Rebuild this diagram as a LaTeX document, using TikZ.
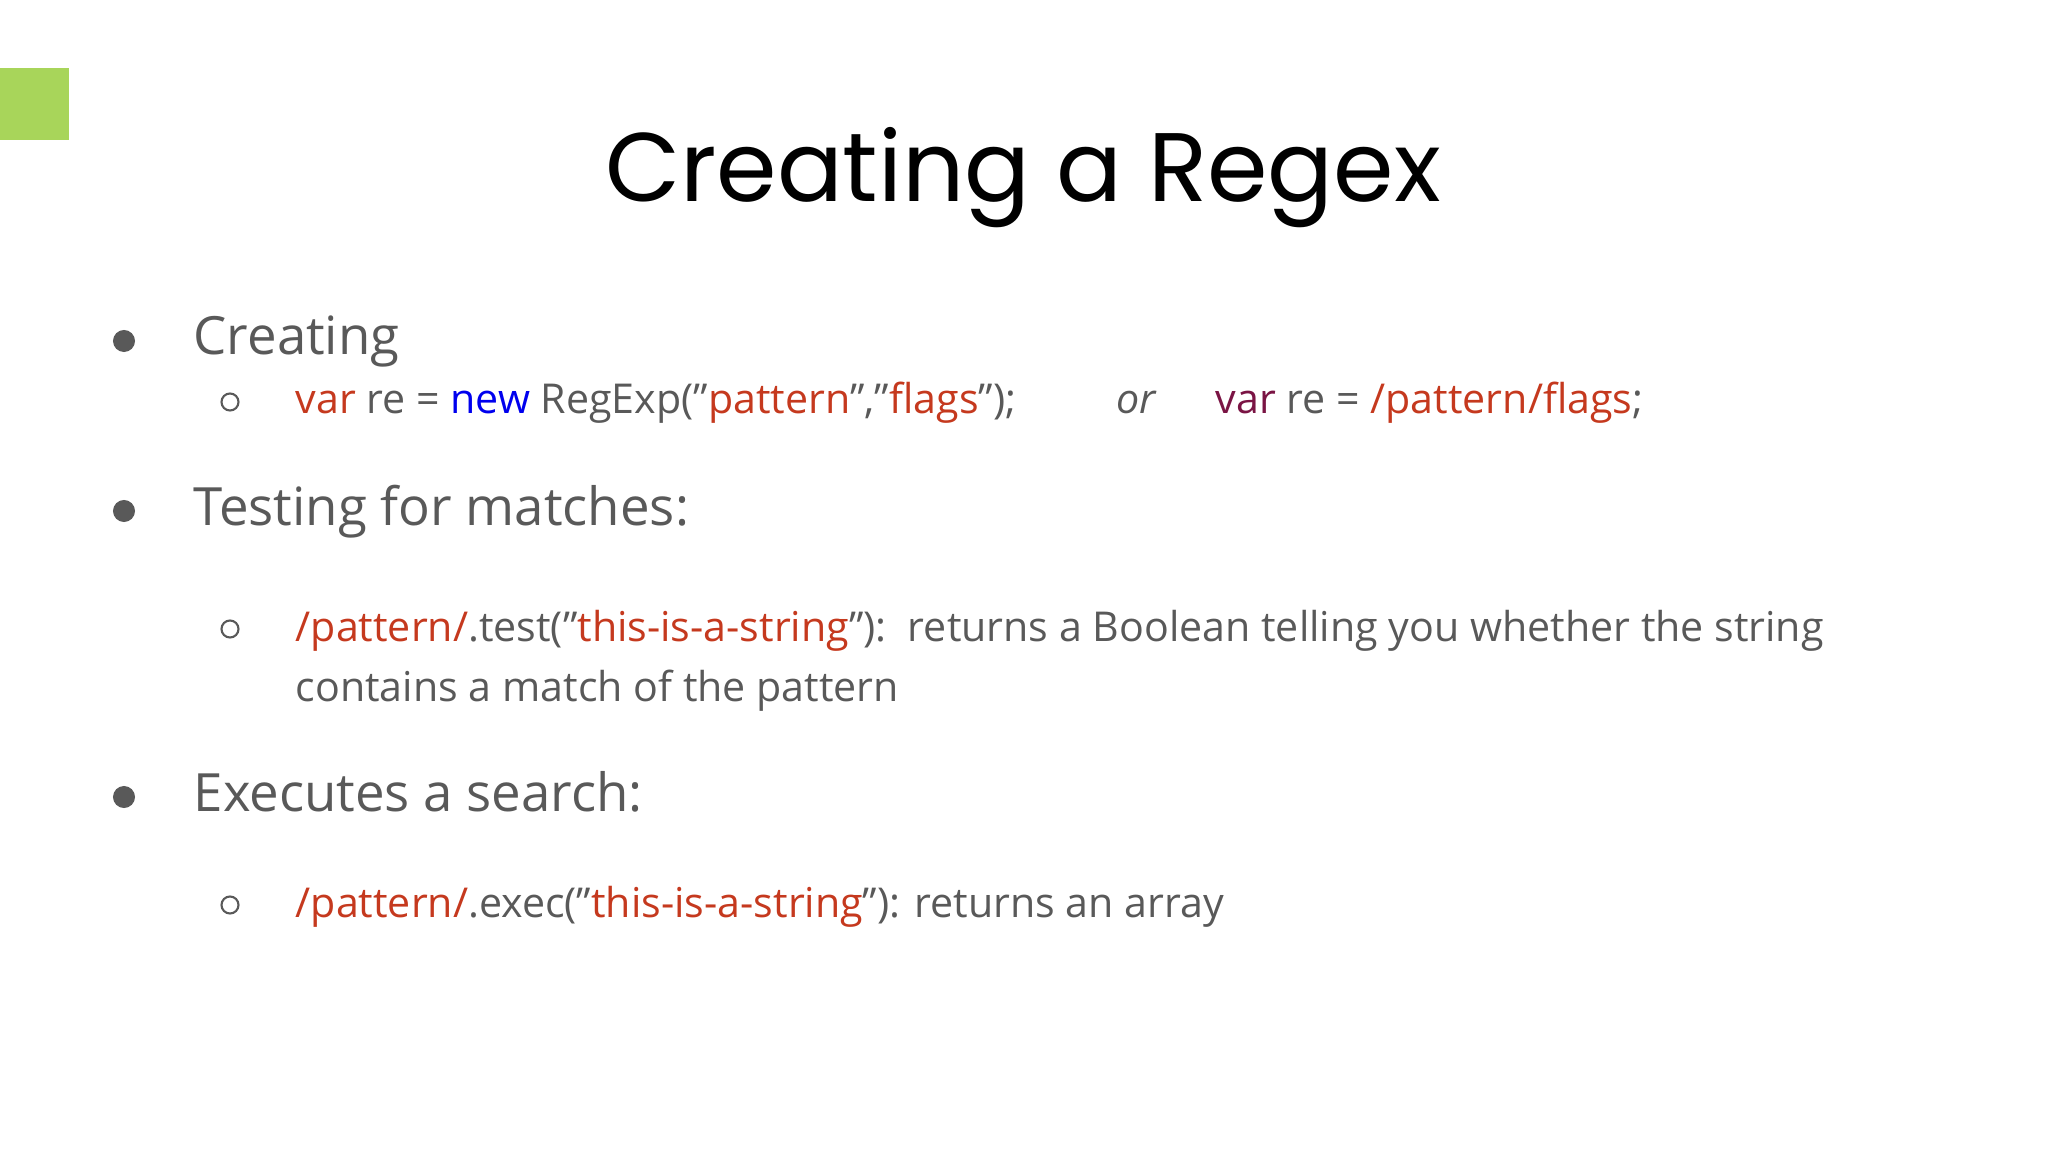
\documentclass[tikz,border=0pt]{standalone}
\usepackage{fontspec}
\setmainfont{Open Sans}
\newfontfamily\titlefont{Poppins}
\definecolor{txt}{HTML}{595959}
\definecolor{rd}{HTML}{C5391E}
\definecolor{bl}{HTML}{0000EE}
\definecolor{mr}{HTML}{7A1444}
\definecolor{grn}{HTML}{A8D55A}
\newcommand{\q}{\char"22{}}
\begin{document}
\begin{tikzpicture}[x=0.01cm,y=-0.01cm,
  big/.style={anchor=base west,inner sep=0,font=\fontsize{15}{18}\selectfont,text=txt},
  small/.style={anchor=base west,inner sep=0,font=\fontsize{11.7}{15}\selectfont,text=txt},
  dot/.style={circle,fill=txt,inner sep=0,minimum size=0.22cm},
  ring/.style={circle,draw=txt,line width=0.6pt,inner sep=0,minimum size=0.17cm}]
\useasboundingbox (0,0) rectangle (2048,1152);
\fill[grn] (0,68) rectangle (69,140);
\node[anchor=base,inner sep=0,font=\titlefont\fontsize{27.7}{32}\selectfont] (title) at (1023,202) {Creating a Regex};
\node[dot] (d1) at (124,341) {};
\node[big] (b1) at (193,355) {Creating};
\node[ring] (r1) at (230,402) {};
\node[small] (s1) at (295,414) {\textcolor{rd}{var} re = \textcolor{bl}{new} RegExp(\q\textcolor{rd}{pattern}\q,\q\textcolor{rd}{flags}\q);};
\node[small] (or) at (1116,414) {\textit{or}};
\node[small] (s1b) at (1215,414) {\textcolor{mr}{var} re = \textcolor{rd}{/pattern/flags};};
\node[dot] (d2) at (124,511) {};
\node[big] (b2) at (193,525) {Testing for matches:};
\node[ring] (r2) at (230,629) {};
\node[small] (s2) at (295,641) {\textcolor{rd}{/pattern/}.test(\q\textcolor{rd}{this-is-a-string}\q):\ \ returns a Boolean telling you whether the string};
\node[small] (s2b) at (295,701) {contains a match of the pattern};
\node[dot] (d3) at (124,797) {};
\node[big] (b3) at (193,811) {Executes a search:};
\node[ring] (r3) at (230,905) {};
\node[small] (s3) at (295,917) {\textcolor{rd}{/pattern/}.exec(\q\textcolor{rd}{this-is-a-string}\q): returns an array};
\end{tikzpicture}
\end{document}
